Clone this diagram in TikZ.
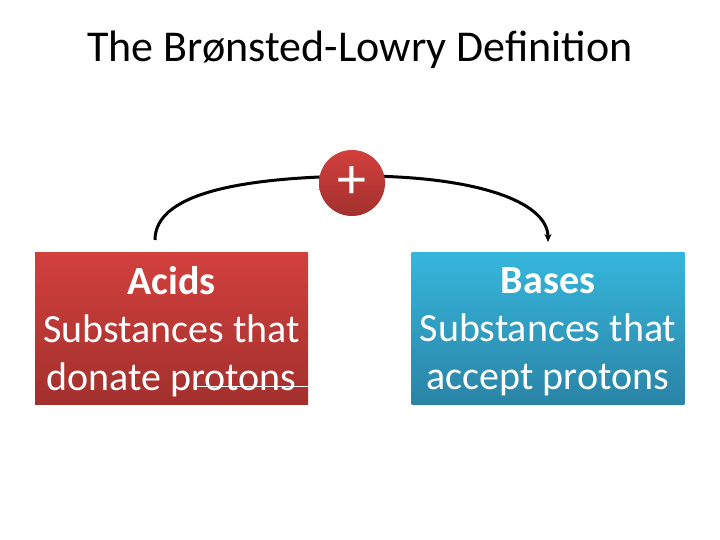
\documentclass[tikz,border=0pt]{standalone}
\usepackage{fontspec}
\setmainfont{Carlito}
\usepackage{xcolor}
\usepackage{tikz}
\usetikzlibrary{arrows.meta}
\definecolor{bg}{HTML}{FFFFFF}
\definecolor{text}{HTML}{000000}
\definecolor{redtop}{HTML}{D2403D}
\definecolor{redbot}{HTML}{A2302D}
\definecolor{bluetop}{HTML}{36B6DC}
\definecolor{bluebot}{HTML}{2A84A6}
\tikzset{
  box/.style={rectangle, minimum width=273pt, minimum height=152pt, inner sep=0pt},
  acidbox/.style={box, top color=redtop, bottom color=redbot},
  basebox/.style={box, top color=bluetop, bottom color=bluebot},
  boxtext/.style={text=white, align=center, inner sep=0pt, font=\fontsize{40}{48}\selectfont},
  plus/.style={circle, minimum size=66pt, inner sep=0pt, top color=redtop, bottom color=redbot,
    text=white, font=\fontsize{58}{58}\selectfont},
  arc/.style={draw=text, line width=3pt},
  lab/.style={text=text, font=\fontsize{44}{44}\selectfont},
}
\begin{document}
\begin{tikzpicture}[x=1pt,y=-1pt]
  \useasboundingbox[fill=bg] (0,0) rectangle (720,540);
  \node[lab,anchor=base] (title) at (360,62) {The Brønsted-Lowry Definition};
  \node[acidbox] (acids) at (171.5,328) {};
  \node[basebox] (bases) at (548,328) {};
  \node[boxtext] (acidtext) at ([yshift=-4pt]acids.center) {\textbf{Acids}\\Substances that\\donate protons};
  \node[boxtext] (basetext) at ([yshift=-4pt]bases.center) {\textbf{Bases}\\Substances that\\accept protons};
  \draw[white, line width=0.8pt] (193,386) -- (acids.east |- 0,386);
  \coordinate (src) at (155,240);
  \coordinate (dst) at (548,242);
  \coordinate (top) at (352,176);
  \draw[arc,-{Stealth[length=8pt,width=7pt]}] (src) .. controls (155,195) and (235,178) .. (top)
    .. controls (470,175) and (548,200) .. (dst);
  \node[plus] (proton) at (352,183) {+};
\end{tikzpicture}
\end{document}
